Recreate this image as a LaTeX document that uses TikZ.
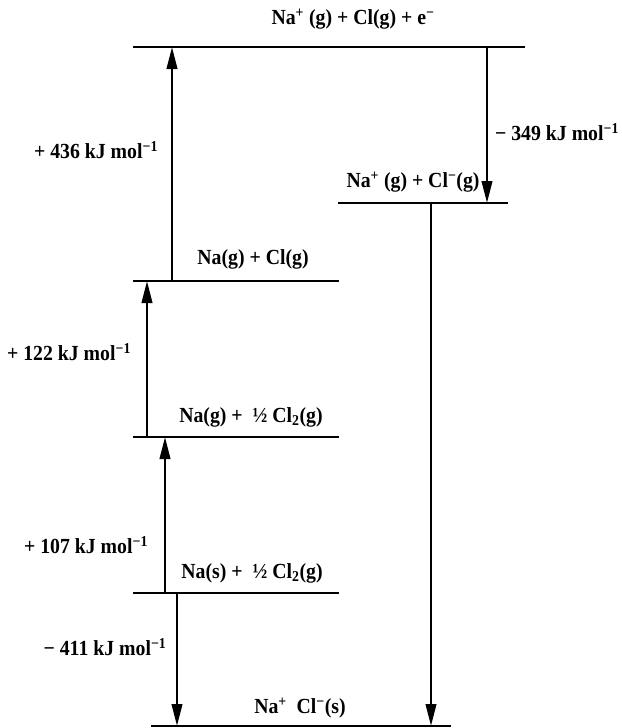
\documentclass[tikz,border=0pt]{standalone}
\usepackage{fontspec}
\setmainfont{Liberation Serif}
\newfontfamily\labfont[FakeStretch=0.92]{Liberation Serif}
\usetikzlibrary{arrows.meta}
\begin{document}
\begin{tikzpicture}[x=1pt,y=-1pt,
  level/.style={line width=2.4pt},
  trans/.style={line width=2.4pt,-{Triangle[length=22pt,width=10.5pt]}},
  lab/.style={font=\labfont\fontsize{21.5}{26}\selectfont\bfseries,inner sep=0pt}]
\useasboundingbox (0,0) rectangle (621,728);
% level end points
\coordinate (L1a) at (133,47);  \coordinate (L1b) at (525,47);
\coordinate (L2a) at (338,203); \coordinate (L2b) at (508,203);
\coordinate (L3a) at (133,281); \coordinate (L3b) at (339,281);
\coordinate (L4a) at (133,437); \coordinate (L4b) at (339,437);
\coordinate (L5a) at (133,593); \coordinate (L5b) at (339,593);
\coordinate (L6a) at (151,726); \coordinate (L6b) at (451,726);
\draw[level] (L1a) -- (L1b);
\draw[level] (L2a) -- (L2b);
\draw[level] (L3a) -- (L3b);
\draw[level] (L4a) -- (L4b);
\draw[level] (L5a) -- (L5b);
\draw[level] (L6a) -- (L6b);
% level labels
\node[lab] (t1) at (353,19) {Na\textsuperscript{+} (g) + Cl(g) + e\textsuperscript{−}};
\node[lab] (t2) at (413,182) {Na\textsuperscript{+} (g) + Cl\textsuperscript{−}(g)};
\node[lab] (t3) at (253,259) {Na(g) + Cl(g)};
\node[lab] (t4) at (251,417) {Na(g) +\ \ ½ Cl\textsubscript{2}(g)};
\node[lab] (t5) at (252,573) {Na(s) +\ \ ½ Cl\textsubscript{2}(g)};
\node[lab] (t6) at (300,708) {Na\textsuperscript{+}\ \ Cl\textsuperscript{−}(s)};
% transition arrows
\coordinate (a1s) at (172,281); \coordinate (a1e) at (172,47);
\coordinate (a2s) at (487,47);  \coordinate (a2e) at (487,203);
\coordinate (a3s) at (147,437); \coordinate (a3e) at (147,281);
\coordinate (a4s) at (165,593); \coordinate (a4e) at (165,437);
\coordinate (a5s) at (177,593); \coordinate (a5e) at (177,726);
\coordinate (a6s) at (431,203); \coordinate (a6e) at (431,726);
\draw[trans] (a1s) -- (a1e);
\draw[trans] (a2s) -- (a2e);
\draw[trans] (a3s) -- (a3e);
\draw[trans] (a4s) -- (a4e);
\draw[trans] (a5s) -- (a5e);
\draw[trans] (a6s) -- (a6e);
% energy labels
\node[lab] (e1) at (96,150) {+ 436 kJ mol\textsuperscript{−1}};
\node[lab] (e2) at (557,132) {− 349 kJ mol\textsuperscript{−1}};
\node[lab] (e3) at (69,352) {+ 122 kJ mol\textsuperscript{−1}};
\node[lab] (e4) at (86,545) {+ 107 kJ mol\textsuperscript{−1}};
\node[lab] (e5) at (105,647) {− 411 kJ mol\textsuperscript{−1}};
\end{tikzpicture}
\end{document}
